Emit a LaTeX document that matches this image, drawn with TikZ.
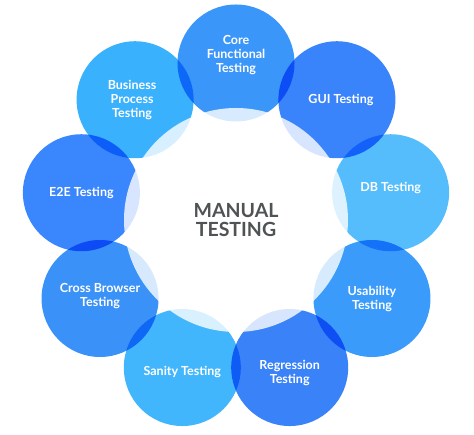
\documentclass[tikz,border=0pt]{standalone}
\usepackage{fontspec}
\setmainfont{Lato}
\usetikzlibrary{calc}

\definecolor{coreblue}{HTML}{3B96FA}
\definecolor{guiblue}{HTML}{3A84FB}
\definecolor{dbblue}{HTML}{55BDFC}
\definecolor{usablue}{HTML}{3A9BFA}
\definecolor{regblue}{HTML}{3A82F8}
\definecolor{sanblue}{HTML}{42B6FC}
\definecolor{crossblue}{HTML}{3A92F8}
\definecolor{etoeblue}{HTML}{3A86FC}
\definecolor{busblue}{HTML}{3AB1FC}
\definecolor{hubtext}{HTML}{505353}

\tikzset{
  bubble/.style={circle, minimum size=117pt, inner sep=0pt, fill=#1},
  tag/.style={align=center, text=white, inner sep=0pt,
    font=\bfseries\fontsize{12.5}{14}\selectfont},
}

\begin{document}
\begin{tikzpicture}[x=1pt,y=1pt]
  \useasboundingbox (0,0) rectangle (474,435);
  \coordinate (hub) at (236,215);

  % Define nodes
  \begin{scope}[blend group=multiply]
    \node[bubble=coreblue]  (core)  at ($(hub)+(90:157)$)   {};
    \node[bubble=guiblue]   (gui)   at ($(hub)+(50:157)$)   {};
    \node[bubble=dbblue]    (db)    at ($(hub)+(10:157)$)   {};
    \node[bubble=usablue]   (usa)   at ($(hub)+(-30:157)$)  {};
    \node[bubble=regblue]   (reg)   at ($(hub)+(-70:157)$)  {};
    \node[bubble=sanblue]   (san)   at ($(hub)+(-110:157)$) {};
    \node[bubble=crossblue] (cross) at ($(hub)+(-150:157)$) {};
    \node[bubble=etoeblue]  (etoe)  at ($(hub)+(170:157)$)  {};
    \node[bubble=busblue]   (bus)   at ($(hub)+(130:157)$)  {};
  \end{scope}

  % Pale inner ring
  \fill[white, opacity=0.8] (hub) circle (112);

  % Labels
  \node[tag] (core-t)  at ([yshift=8]core)  {Core\\Functional\\Testing};
  \node[tag] (gui-t)   at ([xshift=4]gui)   {GUI Testing};
  \node[tag] (db-t)    at ([yshift=5]db)    {DB Testing};
  \node[tag] (usa-t)   at (usa)             {Usability\\Testing};
  \node[tag] (reg-t)   at ([yshift=-5]reg)  {Regression\\Testing};
  \node[tag] (san-t)   at ([yshift=-4]san)  {Sanity Testing};
  \node[tag] (cross-t) at ([yshift=2]cross) {Cross Browser\\Testing};
  \node[tag] (etoe-t)  at (etoe)            {E2E Testing};
  \node[tag] (bus-t)   at ([xshift=-3]bus)  {Business\\Process\\Testing};

  \node[align=center, text=hubtext, inner sep=0pt,
    font=\bfseries\fontsize{19.5}{19}\selectfont] (manual) at (hub) {MANUAL\\TESTING};

\end{tikzpicture}
\end{document}
